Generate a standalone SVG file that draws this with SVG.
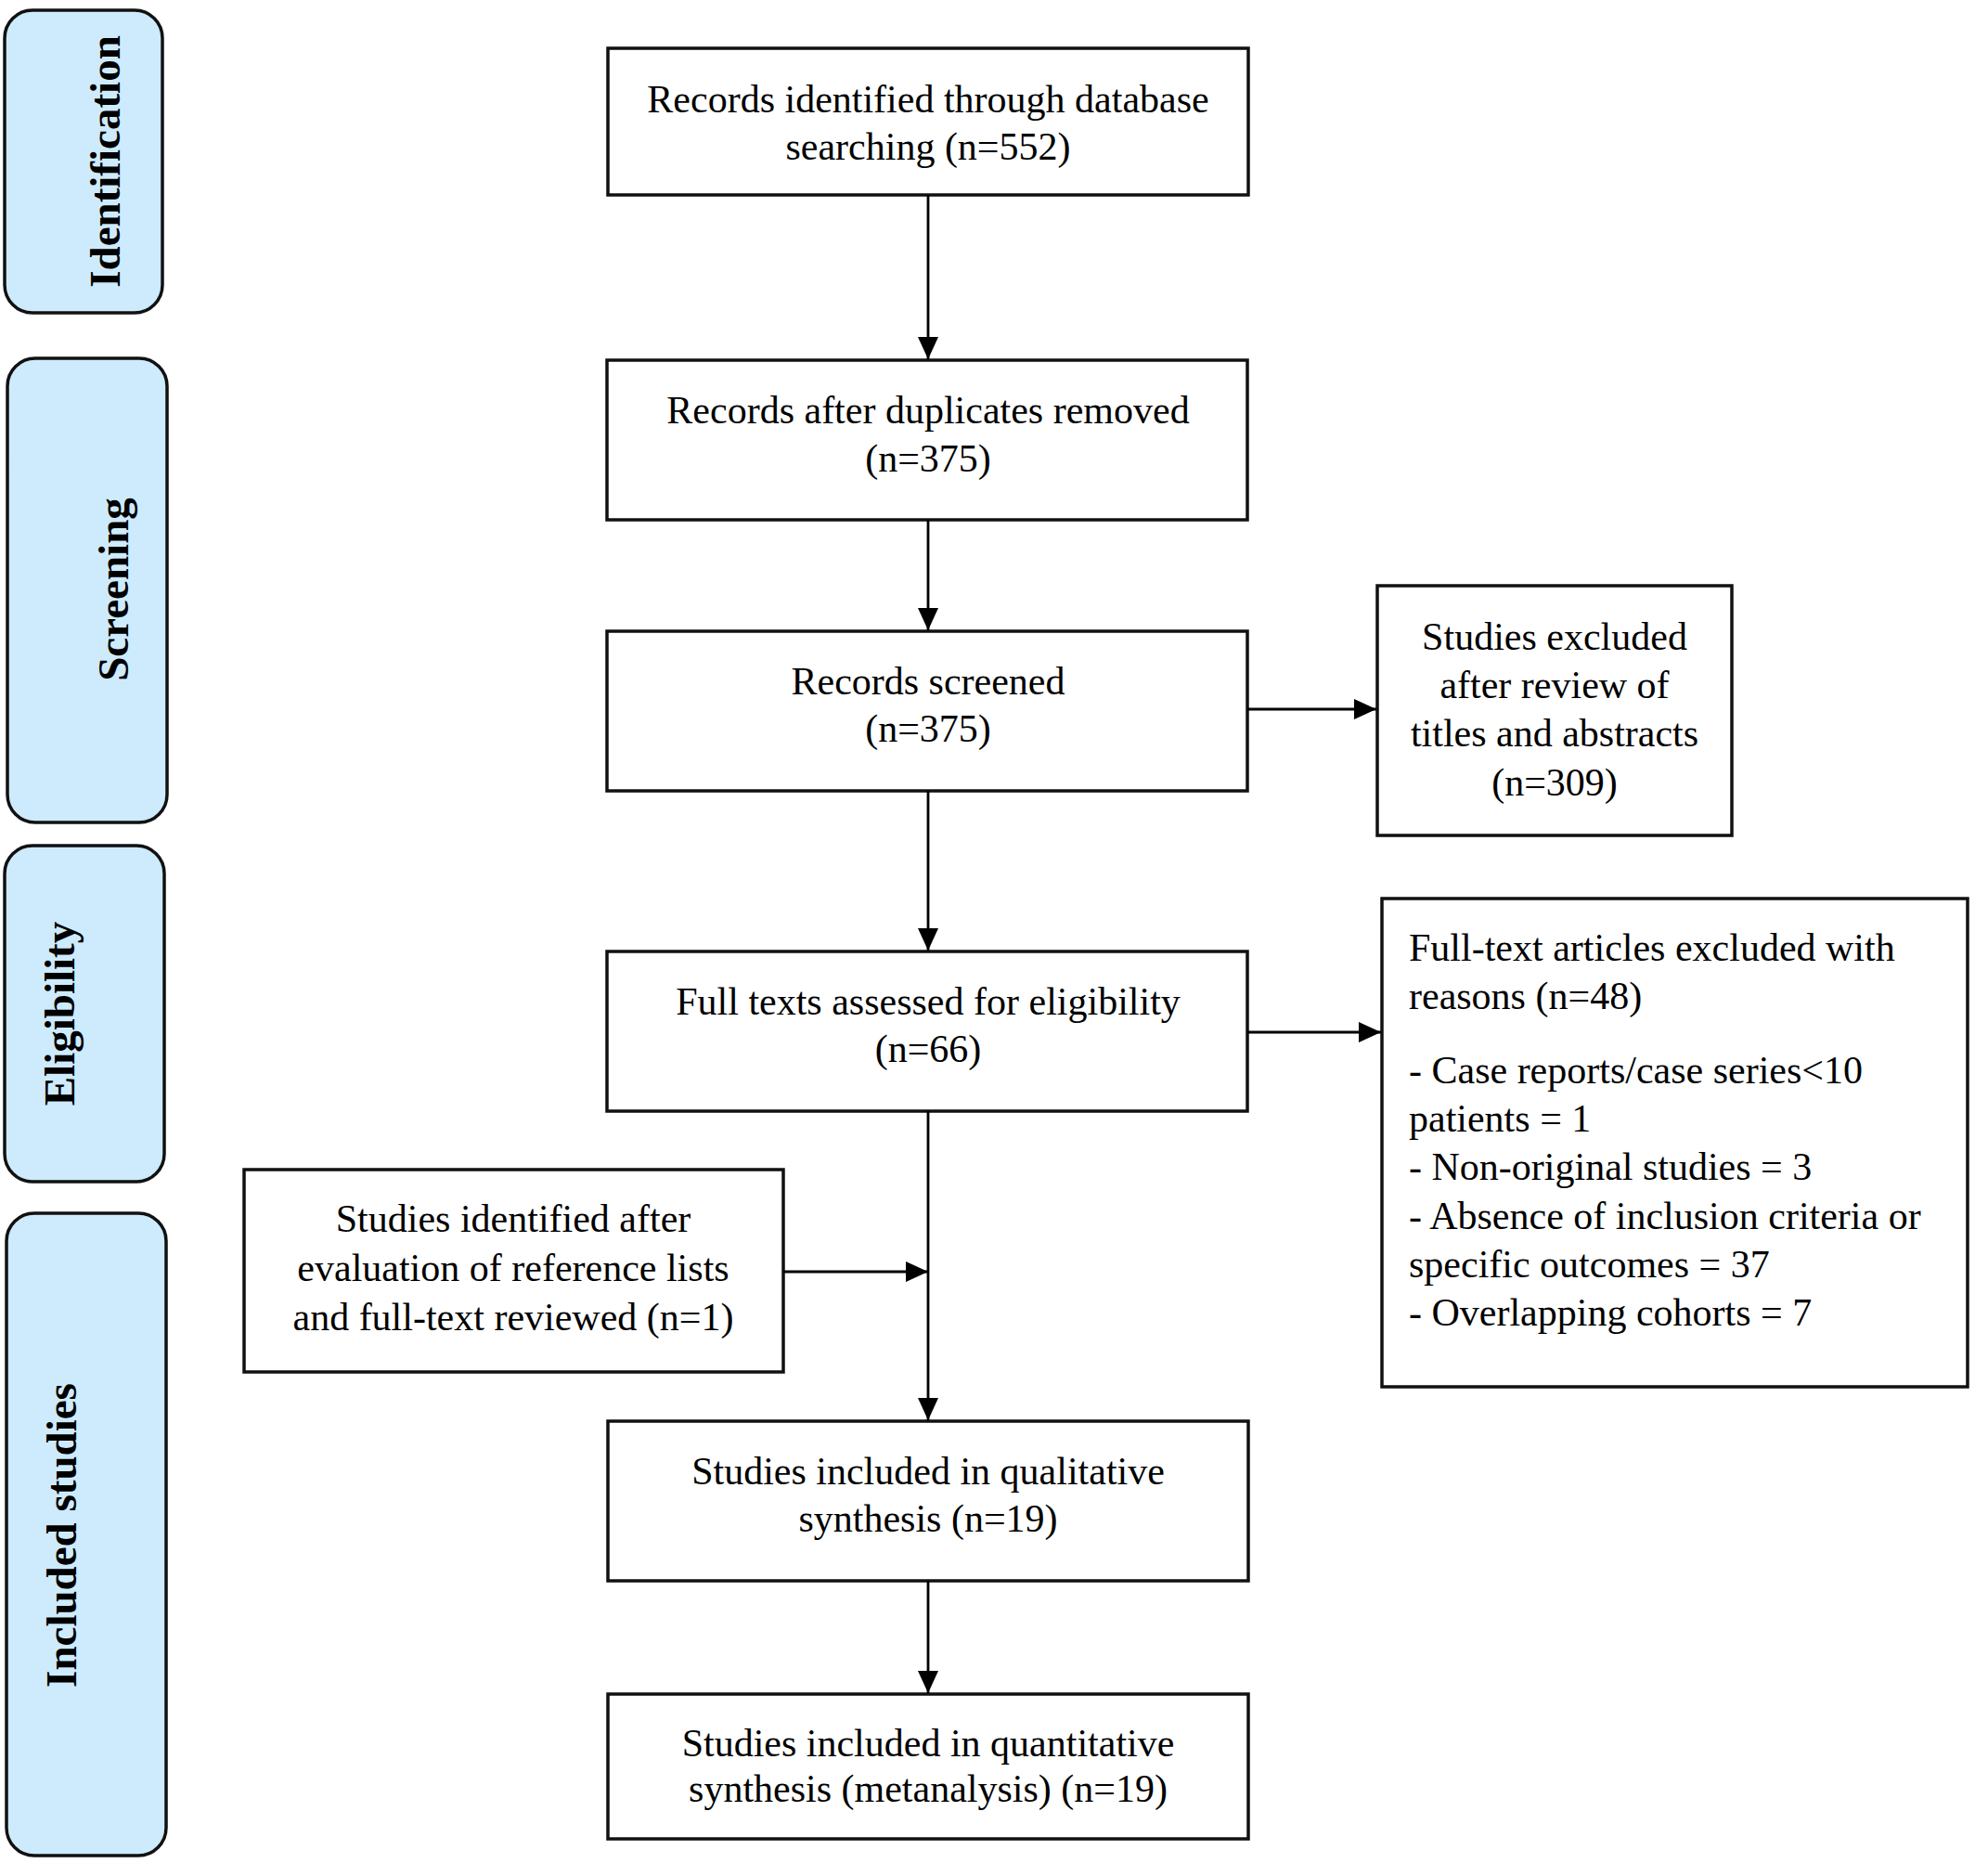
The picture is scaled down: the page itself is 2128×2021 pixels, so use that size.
<svg xmlns="http://www.w3.org/2000/svg" width="2128" height="2021" viewBox="0 0 2128 2021">
<defs>
<marker id="arr" markerUnits="userSpaceOnUse" markerWidth="26" markerHeight="24" refX="24" refY="11" orient="auto">
<path d="M0,0 L24,11 L0,22 z" fill="#000"/>
</marker>
</defs>
<style>
.stage{fill:#CDEBFC;stroke:#111;stroke-width:3.5}
.box{fill:#fff;stroke:#111;stroke-width:3.5}
.lab{font-family:"Liberation Serif","Times New Roman",serif;font-weight:bold;font-size:47px;fill:#000;text-anchor:middle}
.t{font-family:"Liberation Serif","Times New Roman",serif;font-size:42px;fill:#000;text-anchor:middle}
.tl{font-family:"Liberation Serif","Times New Roman",serif;font-size:42px;fill:#000;text-anchor:start}
.conn{stroke:#000;stroke-width:2.8;fill:none}
</style>
<rect width="2128" height="2021" fill="#fff"/>
<g id="stage-identification">
<rect class="stage" x="5" y="11" width="170" height="326" rx="30"/>
<text class="lab" transform="translate(129,174) rotate(-90)">Identification</text>
</g>
<g id="stage-screening">
<rect class="stage" x="8" y="386" width="172" height="500" rx="30"/>
<text class="lab" transform="translate(138,635) rotate(-90)">Screening</text>
</g>
<g id="stage-eligibility">
<rect class="stage" x="5" y="911" width="172" height="362" rx="30"/>
<text class="lab" transform="translate(80,1092) rotate(-90)">Eligibility</text>
</g>
<g id="stage-included">
<rect class="stage" x="7" y="1307" width="172" height="692" rx="30"/>
<text class="lab" transform="translate(82,1654) rotate(-90)">Included studies</text>
</g>
<g id="n-identified">
<rect class="box" x="655" y="52" width="690" height="158"/>
<text class="t" x="1000" y="121">Records identified through database</text>
<text class="t" x="1000" y="172">searching (n=552)</text>
</g>
<g id="n-dedup">
<rect class="box" x="654" y="388" width="690" height="172"/>
<text class="t" x="1000" y="456">Records after duplicates removed</text>
<text class="t" x="1000" y="508">(n=375)</text>
</g>
<g id="n-screened">
<rect class="box" x="654" y="680" width="690" height="172"/>
<text class="t" x="1000" y="748">Records screened</text>
<text class="t" x="1000" y="799">(n=375)</text>
</g>
<g id="n-excluded-ta">
<rect class="box" x="1484" y="631" width="382" height="269"/>
<text class="t" x="1675" y="700">Studies excluded</text>
<text class="t" x="1675" y="752">after review of</text>
<text class="t" x="1675" y="804">titles and abstracts</text>
<text class="t" x="1675" y="857">(n=309)</text>
</g>
<g id="n-fulltext">
<rect class="box" x="654" y="1025" width="690" height="172"/>
<text class="t" x="1000" y="1093">Full texts assessed for eligibility</text>
<text class="t" x="1000" y="1144">(n=66)</text>
</g>
<g id="n-excluded-ft">
<rect class="box" x="1489" y="968" width="631" height="526"/>
<text class="tl" x="1518" y="1035">Full-text articles excluded with</text>
<text class="tl" x="1518" y="1087">reasons (n=48)</text>
<text class="tl" x="1518" y="1167">- Case reports/case series&lt;10</text>
<text class="tl" x="1518" y="1219">patients = 1</text>
<text class="tl" x="1518" y="1271">- Non-original studies = 3</text>
<text class="tl" x="1518" y="1324">- Absence of inclusion criteria or</text>
<text class="tl" x="1518" y="1376">specific outcomes = 37</text>
<text class="tl" x="1518" y="1428">- Overlapping cohorts = 7</text>
</g>
<g id="n-reflists">
<rect class="box" x="263" y="1260" width="581" height="218"/>
<text class="t" x="553" y="1327">Studies identified after</text>
<text class="t" x="553" y="1380">evaluation of reference lists</text>
<text class="t" x="553" y="1433">and full-text reviewed (n=1)</text>
</g>
<g id="n-qualitative">
<rect class="box" x="655" y="1531" width="690" height="172"/>
<text class="t" x="1000" y="1599">Studies included in qualitative</text>
<text class="t" x="1000" y="1650">synthesis (n=19)</text>
</g>
<g id="n-quantitative">
<rect class="box" x="655" y="1825" width="690" height="156"/>
<text class="t" x="1000" y="1892">Studies included in quantitative</text>
<text class="t" x="1000" y="1941">synthesis (metanalysis) (n=19)</text>
</g>
<g id="connectors">
<line class="conn" x1="1000" y1="210" x2="1000" y2="387" marker-end="url(#arr)"/>
<line class="conn" x1="1000" y1="560" x2="1000" y2="679" marker-end="url(#arr)"/>
<line class="conn" x1="1000" y1="852" x2="1000" y2="1024" marker-end="url(#arr)"/>
<line class="conn" x1="1344" y1="764" x2="1483" y2="764" marker-end="url(#arr)"/>
<line class="conn" x1="1344" y1="1112" x2="1488" y2="1112" marker-end="url(#arr)"/>
<line class="conn" x1="1000" y1="1197" x2="1000" y2="1530" marker-end="url(#arr)"/>
<line class="conn" x1="844" y1="1370" x2="1000" y2="1370" marker-end="url(#arr)"/>
<line class="conn" x1="1000" y1="1703" x2="1000" y2="1824" marker-end="url(#arr)"/>
</g>
</svg>
